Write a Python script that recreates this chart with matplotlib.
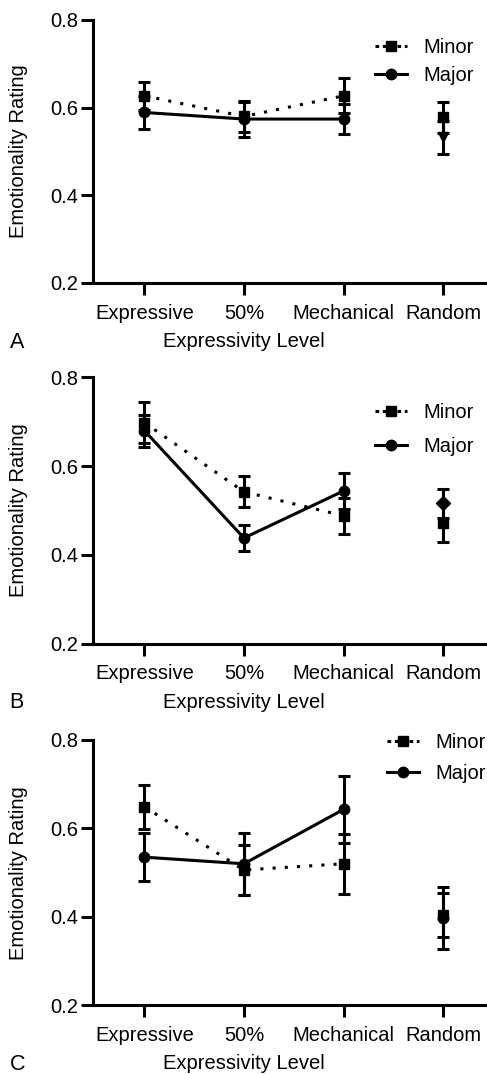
import numpy as np
import matplotlib
matplotlib.use('Agg')
import matplotlib.pyplot as plt
from matplotlib.lines import Line2D

plt.rcParams['font.family'] = ['Liberation Sans', 'DejaVu Sans']
plt.rcParams['font.size'] = 14.5

# Expressivity levels on the x axis
levels = ['Expressive', '50%', 'Mechanical', 'Random']
y_ticks = [0.2, 0.4, 0.6, 0.8]

# Panel A
a_minor = [0.627, 0.580, 0.627, 0.578]
a_minor_err = [0.032, 0.035, 0.040, 0.035]
a_major = [0.589, 0.574, 0.574, 0.532]
a_major_err = [0.037, 0.040, 0.035, 0.037]

# Panel B
b_minor = [0.698, 0.542, 0.488, 0.472]
b_minor_err = [0.046, 0.035, 0.040, 0.044]
b_major = [0.680, 0.438, 0.544, 0.516]
b_major_err = [0.036, 0.030, 0.040, 0.033]

# Panel C
c_minor = [0.649, 0.506, 0.520, 0.405]
c_minor_err = [0.050, 0.056, 0.068, 0.050]
c_major = [0.535, 0.520, 0.643, 0.398]
c_major_err = [0.055, 0.070, 0.075, 0.070]

panels = [
    ('A', a_minor, a_minor_err, a_major, a_major_err, 'v'),
    ('B', b_minor, b_minor_err, b_major, b_major_err, 'D'),
    ('C', c_minor, c_minor_err, c_major, c_major_err, 'o'),
]

# axes boxes in figure fraction: left, bottom, width, height
boxes = [
    [0.19, 0.7365, 0.81, 0.2449],
    [0.19, 0.4007, 0.81, 0.2480],
    [0.19, 0.0640, 0.81, 0.2470],
]
leg_anchor = [(0.715, 0.93), (0.715, 0.905), (0.746, 1.026)]
leg_spacing = [0.42, 0.75, 0.57]

lw = 2.2
dotted = (0, (1, 3))
x = np.arange(len(levels))

fig = plt.figure(figsize=(4.87, 10.74), dpi=100)

for i, (letter, mi, mi_e, ma, ma_e, rand_mk) in enumerate(panels):
    ax = fig.add_axes(boxes[i])

    # connected levels (first three)
    ax.errorbar(x[:3], mi[:3], yerr=mi_e[:3], color='black', lw=lw, ls=dotted,
                marker='s', ms=7, capsize=4.5, capthick=lw, elinewidth=lw, zorder=3)
    ax.errorbar(x[:3], ma[:3], yerr=ma_e[:3], color='black', lw=lw, ls='-',
                marker='o', ms=7.5, capsize=4.5, capthick=lw, elinewidth=lw, zorder=3)
    # random level, not connected
    ax.errorbar(x[3:], mi[3:], yerr=mi_e[3:], color='black', ls='none',
                marker='s', ms=7, capsize=4.5, capthick=lw, elinewidth=lw, zorder=3)
    ax.errorbar(x[3:], ma[3:], yerr=ma_e[3:], color='black', ls='none',
                marker=rand_mk, ms=7.5, capsize=4.5, capthick=lw, elinewidth=lw, zorder=3)

    ax.set_xlim(-0.52, 3.44)
    ax.set_ylim(0.2, 0.8)
    ax.set_yticks(y_ticks)
    ax.set_yticklabels([f'{v:.1f}' for v in y_ticks])
    ax.set_xticks(x)
    ax.set_xticklabels(levels)
    ax.spines['top'].set_visible(False)
    ax.spines['right'].set_visible(False)
    for s in ['left', 'bottom']:
        ax.spines[s].set_linewidth(lw)
    ax.tick_params(width=lw, length=8.5)
    ax.tick_params(axis='y', pad=2)
    ax.tick_params(axis='x', pad=6.5)
    ax.set_ylabel('Emotionality Rating')
    ax.yaxis.set_label_coords(-0.163, 0.5)
    ax.set_xlabel('Expressivity Level')
    ax.xaxis.set_label_coords(0.384, -0.185)

    handles = [
        Line2D([], [], color='black', lw=lw, ls=(0, (1.2, 1.2)), marker='s', ms=7),
        Line2D([], [], color='black', lw=lw, ls='-', marker='o', ms=7.5),
    ]
    ax.legend(handles, ['Minor', 'Major'], loc='upper left', bbox_to_anchor=leg_anchor[i],
              frameon=False, borderpad=0, handlelength=1.6, handletextpad=0.8,
              labelspacing=leg_spacing[i], borderaxespad=0)

    pos = ax.get_position()
    fig.text(0.02, pos.y0 - 0.055, letter, fontsize=15.5, va='center', ha='left')

fig.savefig('out.png', dpi=100)
